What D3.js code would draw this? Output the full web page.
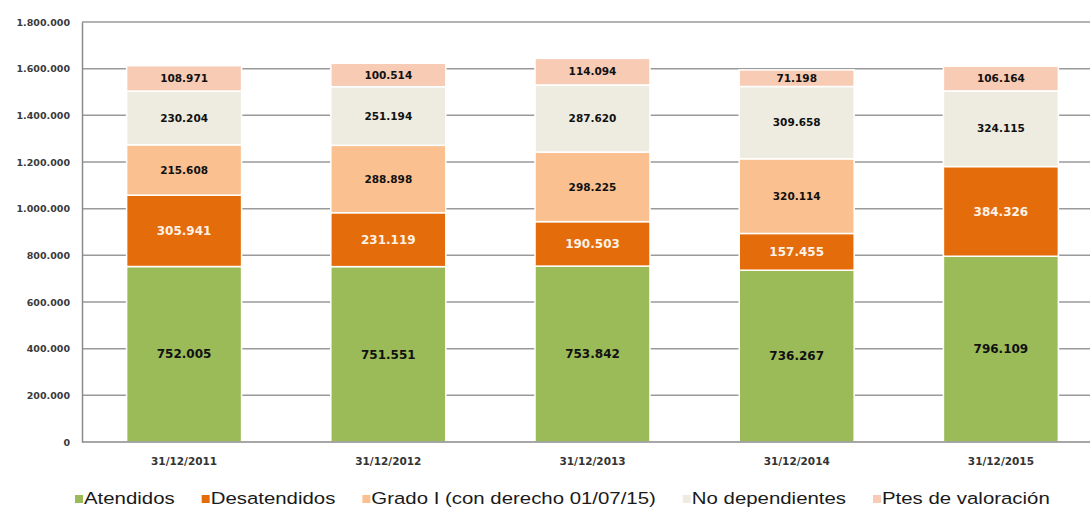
<!DOCTYPE html>
<html>
<head>
<meta charset="utf-8">
<script src="https://cdn.jsdelivr.net/npm/d3@7"></script>
<style>
  html, body { margin: 0; padding: 0; background: #fff; }
  svg { display: block; }
</style>
</head>
<body>
<svg id="chart" width="1090" height="508"></svg>
<script>
const categories = ["31/12/2011", "31/12/2012", "31/12/2013", "31/12/2014", "31/12/2015"];
const seriesNames = ["Atendidos", "Desatendidos", "Grado I (con derecho 01/07/15)", "No dependientes", "Ptes de valoración"];
const atendidos     = [752005, 751551, 753842, 736267, 796109];
const desatendidos  = [305941, 231119, 190503, 157455, 384326];
const gradoI        = [215608, 288898, 298225, 320114, 0];
const noDependientes= [230204, 251194, 287620, 309658, 324115];
const ptes          = [108971, 100514, 114094, 71198, 106164];
const yTicks = [0, 200000, 400000, 600000, 800000, 1000000, 1200000, 1400000, 1600000, 1800000];
const colors = ["#9BBB59", "#E46C0A", "#FAC090", "#EEECE1", "#F8CBB4"];
const labelColors = ["#111", "#FDF2E6", "#111", "#111", "#111"];

const seriesValues = [atendidos, desatendidos, gradoI, noDependientes, ptes];
const rows = categories.map((c, i) => {
  const r = { cat: c };
  seriesNames.forEach((s, k) => r[s] = seriesValues[k][i]);
  return r;
});
const stacked = d3.stack().keys(seriesNames)(rows);

const svg = d3.select("#chart");
const mLeft = 82, mRight = 1103, mTop = 22, mBottom = 442;

const x = d3.scaleBand().domain(categories).range([mLeft, mRight])
  .paddingInner(0.437).paddingOuter(0.2185);
const y = d3.scaleLinear().domain([0, 1800000]).range([mBottom, mTop]);

const fmt = v => d3.format(",")(v).replace(/,/g, ".");

// gridlines
svg.append("g").selectAll("line").data(yTicks.filter(t => t > 0)).join("line")
  .attr("x1", mLeft).attr("x2", 1090)
  .attr("y1", d => y(d)).attr("y2", d => y(d))
  .attr("stroke", "#9a9a9a").attr("stroke-width", 1.5);

// y axis
const yAxis = svg.append("g").attr("transform", `translate(${mLeft},0)`)
  .call(d3.axisLeft(y).tickValues(yTicks).tickSize(0).tickPadding(12).tickFormat(fmt));
yAxis.select(".domain").attr("stroke", "#8a8a8a").attr("stroke-width", 1.5);
yAxis.selectAll("text").attr("font-family", "DejaVu Sans, sans-serif")
  .attr("font-size", 9.5).attr("font-weight", "bold").attr("fill", "#3a3a3a");

// bars
const groups = svg.append("g").selectAll("g").data(stacked).join("g")
  .attr("fill", (d, i) => colors[i]);
groups.selectAll("rect").data(d => d.filter(s => s[1] - s[0] > 0)).join("rect")
  .attr("x", d => x(d.data.cat))
  .attr("width", x.bandwidth())
  .attr("y", d => y(d[1]))
  .attr("height", d => y(d[0]) - y(d[1]))
  .attr("stroke", "#fff").attr("stroke-width", 1.5);

// x axis
const xAxis = svg.append("g").attr("transform", `translate(0,${mBottom})`)
  .call(d3.axisBottom(x).tickSize(0).tickPadding(16));
xAxis.select(".domain").attr("stroke", "#8a8a8a").attr("stroke-width", 1.5)
  .attr("d", `M${mLeft},0H1090`);
xAxis.selectAll("text").attr("font-family", "DejaVu Sans, sans-serif")
  .attr("font-size", 10.5).attr("font-weight", "bold").attr("fill", "#333");

// labels
stacked.forEach((ser, k) => {
  svg.append("g").selectAll("text").data(ser.filter(s => s[1] - s[0] > 0)).join("text")
    .attr("x", d => x(d.data.cat) + x.bandwidth() / 2)
    .attr("y", d => (y(d[0]) + y(d[1])) / 2)
    .attr("dy", "0.35em")
    .attr("text-anchor", "middle")
    .attr("font-family", "DejaVu Sans, sans-serif")
    .attr("font-size", k === 0 || k === 1 ? 12 : 10.5)
    .attr("font-weight", "bold")
    .attr("fill", labelColors[k])
    .text(d => fmt(d[1] - d[0]));
});

// legend
const legend = svg.append("g").attr("transform", "translate(75,504)");
const kx = 1.2;
let lx = 0;
seriesNames.forEach((name, i) => {
  const g = legend.append("g").attr("transform", `translate(${lx},0)`);
  g.append("rect").attr("x", 0).attr("y", -9).attr("width", 8).attr("height", 8).attr("fill", colors[i]);
  const t = g.append("text").attr("transform", `translate(9,0) scale(${kx},1)`)
    .attr("font-family", "Liberation Sans, Arial, sans-serif")
    .attr("font-size", 17).attr("fill", "#1a1a1a").text(name);
  lx += 9 + t.node().getComputedTextLength() * kx + 27;
});
</script>
</body>
</html>
